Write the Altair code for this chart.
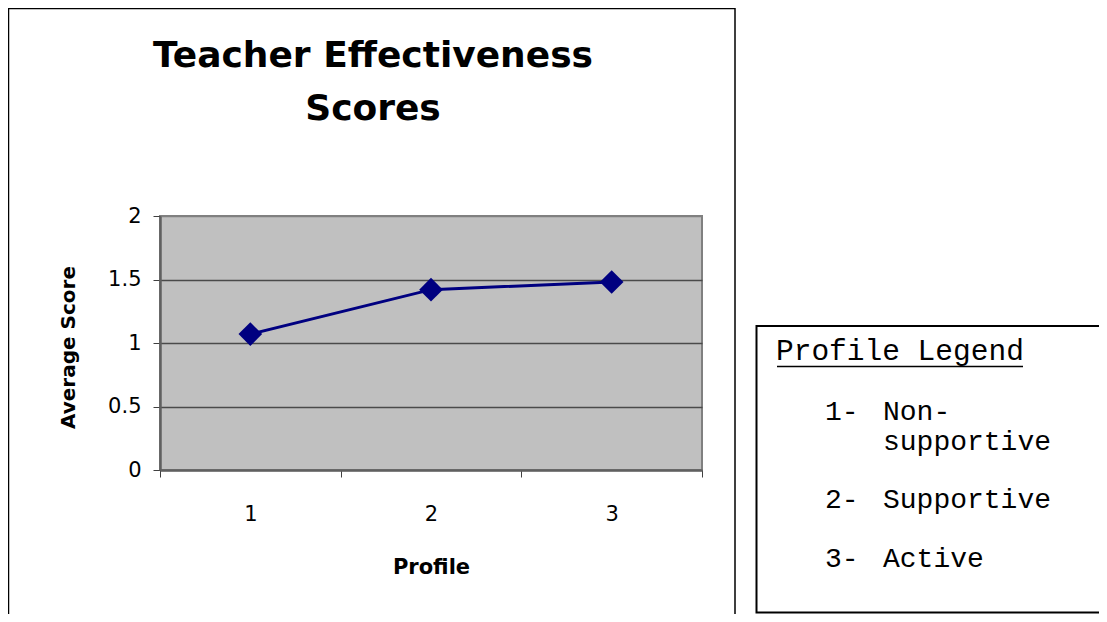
import altair as alt
import pandas as pd

# ---- data ----
profiles = ["1", "2", "3"]
scores = [1.07, 1.42, 1.48]
y_ticks = [0, 0.5, 1, 1.5, 2]
title_lines = ["Teacher Effectiveness", "Scores"]
legend_heading = "Profile Legend"
legend_numbers = ["1-", "2-", "3-"]
legend_labels = [["Non-", "supportive"], ["Supportive"], ["Active"]]

# ---- layout (page coordinates of plot origin) ----
W, H = 542, 254
X0, Y0 = 160, 216
CANVAS_W, CANVAS_H = 1091, 606  # fits the 1107x622 window with the 8px body margin


def rx(a):
    return a - X0


def ry(a):
    return a - Y0


NAVY = "#000080"
SANS = "DejaVu Sans"
MONO = "Courier New, Courier, Liberation Mono, monospace"

df = pd.DataFrame({"Profile": profiles, "Score": scores})

x_enc = alt.X(
    "Profile:O",
    sort=profiles,
    scale=alt.Scale(paddingInner=0, paddingOuter=0),
    axis=alt.Axis(
        title="Profile",
        labelAngle=0,
        tickBand="extent",
        grid=False,
        domainColor="#606060",
        domainWidth=2.5,
        tickColor="#404040",
        tickSize=7,
        labelFont=SANS,
        labelFontSize=21,
        labelColor="black",
        labelBaseline="alphabetic",
        labelPadding=43,
        titleFont=SANS,
        titleFontWeight="bold",
        titleFontSize=21,
        titleColor="black",
        titleX=W / 2,
        titleY=103,
        titleBaseline="alphabetic",
        titleAlign="center",
    ),
)

y_enc = alt.Y(
    "Score:Q",
    scale=alt.Scale(domain=[0, 2], nice=False),
    axis=alt.Axis(
        title="Average Score",
        values=y_ticks,
        format="~g",
        grid=True,
        gridColor={
            "condition": {"test": "datum.value == 0 || datum.value == 2", "value": "#808080"},
            "value": "#4a4a4a",
        },
        gridWidth=1.5,
        domainColor="#606060",
        domainWidth=2.5,
        tickColor="#404040",
        tickSize=7,
        labelFont=SANS,
        labelFontSize=21,
        labelColor="black",
        labelPadding=12,
        titleFont=SANS,
        titleFontWeight="bold",
        titleFontSize=20,
        titleColor="black",
        titleAngle=270,
        titleX=rx(74),
        titleY=131,
        titleBaseline="alphabetic",
        titleAlign="center",
    ),
)

line = alt.Chart(df).mark_line(color=NAVY, strokeWidth=3).encode(x=x_enc, y=y_enc)
points = alt.Chart(df).mark_point(
    shape="diamond", filled=True, size=560, color=NAVY, opacity=1
).encode(x=x_enc, y=y_enc)

layers = []

# outer chart border and legend box
border = alt.Chart(pd.DataFrame({"k": [0]})).mark_rect(
    fillOpacity=0, stroke="black", strokeWidth=1.5
).encode(x=alt.value(rx(8.5)), x2=alt.value(rx(735)), y=alt.value(ry(8.5)), y2=alt.value(ry(720)))
legend_box = alt.Chart(pd.DataFrame({"k": [0]})).mark_rect(
    fillOpacity=0, stroke="black", strokeWidth=2
).encode(x=alt.value(rx(756.5)), x2=alt.value(rx(1130)), y=alt.value(ry(326)), y2=alt.value(ry(612.5)))
layers += [border, legend_box]

# title
title_baselines = [67, 120]
for txt, base in zip(title_lines, title_baselines):
    layers.append(
        alt.Chart(pd.DataFrame({"t": [txt]})).mark_text(
            font=SANS, fontWeight="bold", fontSize=36, align="center",
            baseline="alphabetic", color="black"
        ).encode(text="t:N", x=alt.value(rx(373)), y=alt.value(ry(base)))
    )

# legend box text
layers.append(
    alt.Chart(pd.DataFrame({"t": [legend_heading]})).mark_text(
        font=MONO, fontSize=29.5, align="left", baseline="alphabetic", color="black"
    ).encode(text="t:N", x=alt.value(rx(776)), y=alt.value(ry(360)))
)
layers.append(
    alt.Chart(pd.DataFrame({"k": [0]})).mark_rule(color="black", strokeWidth=1.5).encode(
        x=alt.value(rx(777)), x2=alt.value(rx(1023)), y=alt.value(ry(366.5))
    )
)
entry_baselines = [[419.5, 450], [507.5], [566.5]]
for num, labs, bases in zip(legend_numbers, legend_labels, entry_baselines):
    layers.append(
        alt.Chart(pd.DataFrame({"t": [num]})).mark_text(
            font=MONO, fontSize=28, align="left", baseline="alphabetic", color="black"
        ).encode(text="t:N", x=alt.value(rx(825)), y=alt.value(ry(bases[0])))
    )
    for lab, b in zip(labs, bases):
        layers.append(
            alt.Chart(pd.DataFrame({"t": [lab]})).mark_text(
                font=MONO, fontSize=28, align="left", baseline="alphabetic", color="black"
            ).encode(text="t:N", x=alt.value(rx(883)), y=alt.value(ry(b)))
        )

chart = (
    alt.layer(line, points, *layers)
    .properties(
        width=W,
        height=H,
        padding={
            "left": X0 - 8,
            "top": Y0 - 8,
            "right": CANVAS_W - (X0 - 8) - W,
            "bottom": CANVAS_H - (Y0 - 8) - H,
        },
        autosize=alt.AutoSizeParams(type="none"),
        background="white",
    )
    .configure_view(fill="#C0C0C0", stroke="#808080", strokeWidth=2)
)

chart.save("out.html", embed_options={"renderer": "svg", "actions": False})
